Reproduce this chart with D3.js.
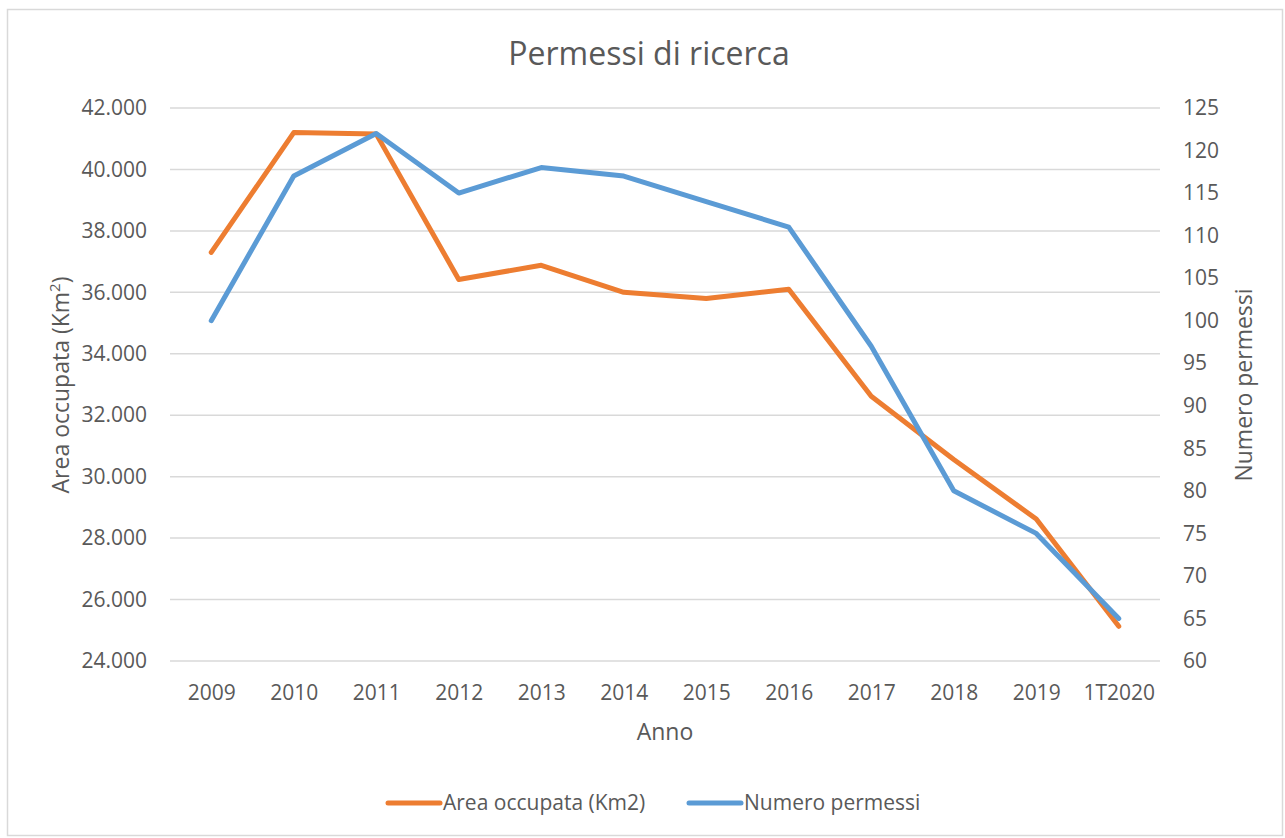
<!DOCTYPE html>
<html>
<head>
<meta charset="utf-8">
<script src="https://cdn.jsdelivr.net/npm/d3@7"></script>
<style>
  body { margin: 0; background: #fff; }
  text { font-family: "Open Sans", sans-serif; fill: #595959; }
</style>
</head>
<body>
<svg id="chart" width="1285" height="838"></svg>
<script>
// data
const years = ["2009", "2010", "2011", "2012", "2013", "2014", "2015", "2016", "2017", "2018", "2019", "1T2020"];
const areaKm2 = [37300, 41200, 41150, 36420, 36880, 36000, 35800, 36100, 32620, 30560, 28620, 25130];
const numPermessi = [100, 117, 122, 115, 118, 117, 114, 111, 97, 80, 75, 65];
const areaTicks = [24000, 26000, 28000, 30000, 32000, 34000, 36000, 38000, 40000, 42000];
const permTicks = [60, 65, 70, 75, 80, 85, 90, 95, 100, 105, 110, 115, 120, 125];

const W = 1285, H = 838;
const margin = {left: 170, right: 125, top: 108, bottom: 177};

const svg = d3.select("#chart");

// outer frame
svg.append("rect")
    .attr("x", 7.5).attr("y", 9.5)
    .attr("width", W - 10).attr("height", H - 12)
    .attr("fill", "none")
    .attr("stroke", "#d9d9d9")
    .attr("stroke-width", 1.5);

const x = d3.scalePoint()
    .domain(years)
    .range([margin.left, W - margin.right])
    .padding(0.5);

const yL = d3.scaleLinear().domain([24000, 42000]).range([H - margin.bottom, margin.top]);
const yR = d3.scaleLinear().domain([60, 125]).range([H - margin.bottom, margin.top]);

const itFmt = d3.formatLocale({decimal: ",", thousands: ".", grouping: [3], currency: ["€", ""]}).format(",.0f");

// GRIDLINES
svg.append("g")
  .selectAll("line")
  .data(areaTicks)
  .join("line")
    .attr("x1", margin.left)
    .attr("x2", W - margin.right)
    .attr("y1", d => yL(d))
    .attr("y2", d => yL(d))
    .attr("stroke", "#d9d9d9")
    .attr("stroke-width", 1.5);

// LEFT AXIS
const leftAxis = svg.append("g")
    .attr("transform", `translate(${margin.left},0)`)
    .call(d3.axisLeft(yL).tickValues(areaTicks).tickFormat(itFmt).tickSize(0).tickPadding(23));
leftAxis.select(".domain").remove();
leftAxis.selectAll("text").style("font-size", "21px").style("font-family", null);

// RIGHT AXIS
const rightAxis = svg.append("g")
    .attr("transform", `translate(${W - margin.right},0)`)
    .call(d3.axisRight(yR).tickValues(permTicks).tickSize(0).tickPadding(23));
rightAxis.select(".domain").remove();
rightAxis.selectAll("text").style("font-size", "21px").style("font-family", null);

// X AXIS
const xAxis = svg.append("g")
    .attr("transform", `translate(0,${H - margin.bottom})`)
    .call(d3.axisBottom(x).tickSize(0).tickPadding(24));
xAxis.select(".domain").remove();
xAxis.selectAll("text").style("font-size", "21px").style("font-family", null);

// TITLE + AXIS LABELS
svg.append("text")
    .attr("x", 649).attr("y", 65)
    .attr("text-anchor", "middle")
    .style("font-size", "32px")
    .text("Permessi di ricerca");

svg.append("text")
    .attr("x", 665).attr("y", 740)
    .attr("text-anchor", "middle")
    .style("font-size", "23px")
    .text("Anno");

svg.append("text")
    .attr("transform", "translate(69,385) rotate(-90)")
    .attr("text-anchor", "middle")
    .style("font-size", "23px")
    .html("Area occupata (Km<tspan dy='-9' font-size='15px'>2</tspan><tspan dy='9'>)</tspan>");

svg.append("text")
    .attr("transform", "translate(1252,385) rotate(-90)")
    .attr("text-anchor", "middle")
    .style("font-size", "23px")
    .text("Numero permessi");

// LINES
const series = [
  {name: "Area occupata (Km2)", values: areaKm2, y: yL, color: "#ED7D31"},
  {name: "Numero permessi", values: numPermessi, y: yR, color: "#5B9BD5"}
];

svg.append("g")
  .selectAll("path")
  .data(series)
  .join("path")
    .attr("fill", "none")
    .attr("stroke", d => d.color)
    .attr("stroke-width", 5)
    .attr("stroke-linejoin", "round")
    .attr("stroke-linecap", "round")
    .attr("d", s => d3.line().x((v, i) => x(years[i])).y(v => s.y(v))(s.values));

// LEGEND
const legendX = [388, 689];
const leg = svg.append("g")
  .selectAll("g")
  .data(series)
  .join("g")
    .attr("transform", (d, i) => `translate(${legendX[i]},803)`);
leg.append("line")
    .attr("x1", 0).attr("x2", 52)
    .attr("stroke", d => d.color)
    .attr("stroke-width", 5)
    .attr("stroke-linecap", "round");
leg.append("text")
    .attr("x", 55).attr("dy", "0.35em")
    .style("font-size", "21px")
    .text(d => d.name);
</script>
</body>
</html>
